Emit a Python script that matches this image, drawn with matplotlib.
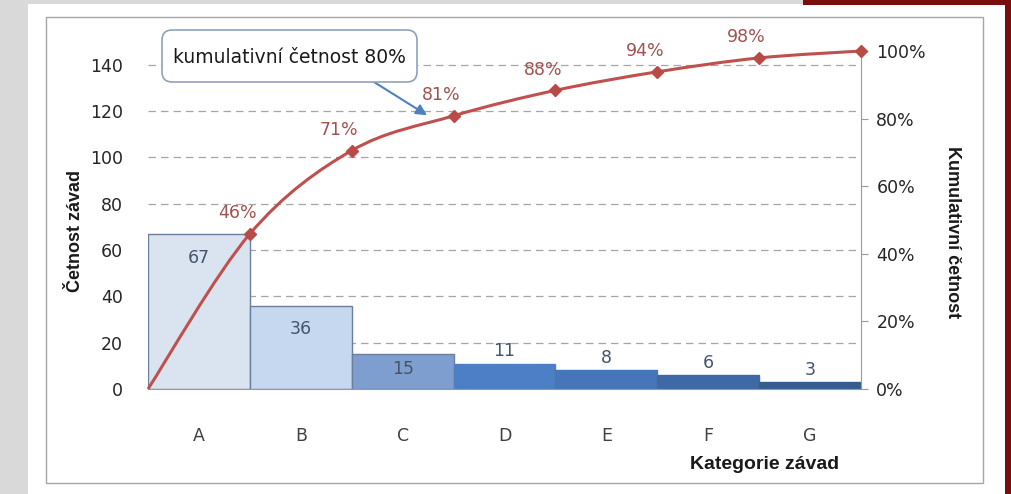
"""
Pareto chart of defect categories (Četnost závad) with cumulative share line.
"""

import numpy as np
import matplotlib.pyplot as plt
from matplotlib.patches import Rectangle, FancyBboxPatch, PathPatch
from matplotlib.path import Path
from matplotlib.ticker import PercentFormatter

categories = ["A", "B", "C", "D", "E", "F", "G"]
counts = [67, 36, 15, 11, 8, 6, 3]
bar_colors = ["#dae4f1", "#c5d8ef", "#7f9ed0", "#4c7fc5", "#4675b8", "#3e69a6", "#375d90"]
bar_edges = ["#6a7f9c", "#6a7f9c", "#6a7f9c", "#4c7fc5", "#4675b8", "#3e69a6", "#375d90"]
count_ticks = [0, 20, 40, 60, 80, 100, 120, 140]
pct_ticks = [0, 0.2, 0.4, 0.6, 0.8, 1.0]
callout_text = "kumulativní četnost 80%"

W, H = 1012, 494
BOLD_FAMILY = ["Liberation Sans Narrow", "Liberation Sans", "DejaVu Sans"]


def px(x, y):
    """Top-left pixel position -> inches from bottom-left (for dpi_scale_trans)."""
    return x / 100, (H - y) / 100


def smooth_path(xs, ys):
    """Cubic Bezier path through the points (Catmull-Rom style, like Excel smoothing)."""
    pts = np.column_stack([xs, ys])
    n = len(pts)
    verts = [pts[0]]
    codes = [Path.MOVETO]
    for i in range(n - 1):
        p0 = pts[i - 1] if i > 0 else pts[i]
        p1 = pts[i]
        p2 = pts[i + 1]
        p3 = pts[i + 2] if i + 2 < n else pts[i + 1]
        verts += [p1 + (p2 - p0) / 6, p2 - (p3 - p1) / 6, p2]
        codes += [Path.CURVE4] * 3
    return Path(verts, codes)


fig = plt.figure(figsize=(W / 100, H / 100), dpi=100, facecolor="#d9d9d9")
tr = fig.dpi_scale_trans

# slide background: white panel, maroon corner and strip
fig.patches.append(Rectangle(px(28, 494), 977 / 100, 490 / 100, transform=tr,
                             facecolor="white", edgecolor="none", zorder=-10))
fig.patches.append(Rectangle(px(803, 5), 209 / 100, 5 / 100, transform=tr,
                             facecolor="#7a0d0d", edgecolor="none", zorder=-9))
fig.patches.append(Rectangle(px(1005, 494), 7 / 100, 494 / 100, transform=tr,
                             facecolor="#7a0d0d", edgecolor="none", zorder=-9))
# chart area border
fig.patches.append(Rectangle(px(46, 483), 937 / 100, 466 / 100, transform=tr,
                             facecolor="none", edgecolor="#a6a6a6", lw=1.0, zorder=-5))

ax = fig.add_axes([148 / W, (H - 389) / H, (861 - 148) / W, (389 - 51) / H])
ax.set_facecolor("none")
x = np.arange(len(categories))
total = sum(counts)

ax.bar(x, counts, width=1.0, color=bar_colors, edgecolor=bar_edges, linewidth=1.0, zorder=2)
ax.set_xlim(-0.5, len(categories) - 0.5)
ax.set_ylim(0, total)
ax.set_yticks(count_ticks)
ax.set_xticks(x)
ax.set_xticklabels(categories)
ax.yaxis.grid(True, linestyle=(0, (6, 4)), color="#a6a6a6", linewidth=0.9)
ax.set_axisbelow(True)
for side in ("left", "top", "right"):
    ax.spines[side].set_visible(False)
ax.spines["bottom"].set_color("#9a9a9a")
ax.tick_params(axis="y", length=0, pad=18, labelsize=12.5, labelcolor="#262626")
ax.tick_params(axis="x", length=0, pad=27, labelsize=12.5, labelcolor="#404040")

# bar value labels
for xi, v in zip(x, counts):
    if v >= 30:
        ax.annotate(str(v), (xi, v), xytext=(0, -17), textcoords="offset points",
                    ha="center", va="center", fontsize=12.5, color="#44546a", zorder=4)
    elif v >= 15:
        ax.annotate(str(v), (xi, v / 2), xytext=(0, 2), textcoords="offset points",
                    ha="center", va="center", fontsize=12.5, color="#44546a", zorder=4)
    else:
        ax.annotate(str(v), (xi, v), xytext=(0, 9), textcoords="offset points",
                    ha="center", va="center", fontsize=12.5, color="#44546a", zorder=4)

# cumulative line on the secondary axis
ax2 = ax.twinx()
cum = np.cumsum(counts) / total
cx = np.concatenate([[-0.5], x + 0.5])
cy = np.concatenate([[0.0], cum])
ax2.set_ylim(0, 1)
ax2.set_yticks(pct_ticks)
ax2.yaxis.set_major_formatter(PercentFormatter(1.0, decimals=0))
for side in ("left", "top", "bottom"):
    ax2.spines[side].set_visible(False)
ax2.spines["right"].set_color("#9a9a9a")
ax2.tick_params(axis="y", length=5, color="#9a9a9a", pad=6, labelsize=12.5, labelcolor="#262626")

ax2.add_patch(PathPatch(smooth_path(cx, cy), facecolor="none", edgecolor="#c0504d",
                        lw=2.2, zorder=3, clip_on=False))
ax2.plot(cx[1:], cy[1:], linestyle="none", marker="D", ms=6.5, color="#b84b48",
         zorder=4, clip_on=False)
for xi, yi in zip(cx[1:-1], cum[:-1]):
    ax2.annotate(f"{yi * 100:.0f}%", (xi, yi), xytext=(-9, 15), textcoords="offset points",
                 ha="center", va="center", fontsize=12.5, color="#a0524f")

# callout with arrow
fig.patches.append(FancyBboxPatch(px(162, 82), 255 / 100, 52 / 100, transform=tr,
                                  boxstyle="round,pad=0,rounding_size=0.1",
                                  facecolor="white", edgecolor="#8ea2bd", lw=1.2, zorder=5))
fig.text(*px(289, 57), callout_text, transform=tr, ha="center", va="center",
         fontsize=13.5, color="#1a1a1a", zorder=6)
ax2.annotate("", xy=(2.24, 0.81), xycoords="data", xytext=px(374, 82), textcoords=tr,
             arrowprops=dict(arrowstyle="-|>", color="#4f81bd", lw=1.5,
                             mutation_scale=16, shrinkA=0, shrinkB=0))

# axis titles
fig.text(*px(75, 231), "Četnost závad", transform=tr, rotation=90, ha="center", va="center",
         fontsize=13, fontweight="bold", family=BOLD_FAMILY, color="#1a1a1a")
fig.text(*px(952, 232), "Kumulativní četnost", transform=tr, rotation=270, ha="center",
         va="center", fontsize=13, fontweight="bold", family=BOLD_FAMILY, color="#1a1a1a")
fig.text(*px(765, 464), "Kategorie závad", transform=tr, ha="center", va="center",
         fontsize=14, fontweight="bold", family=BOLD_FAMILY, color="#1a1a1a")

fig.savefig("out.png", dpi=100, facecolor=fig.get_facecolor())
